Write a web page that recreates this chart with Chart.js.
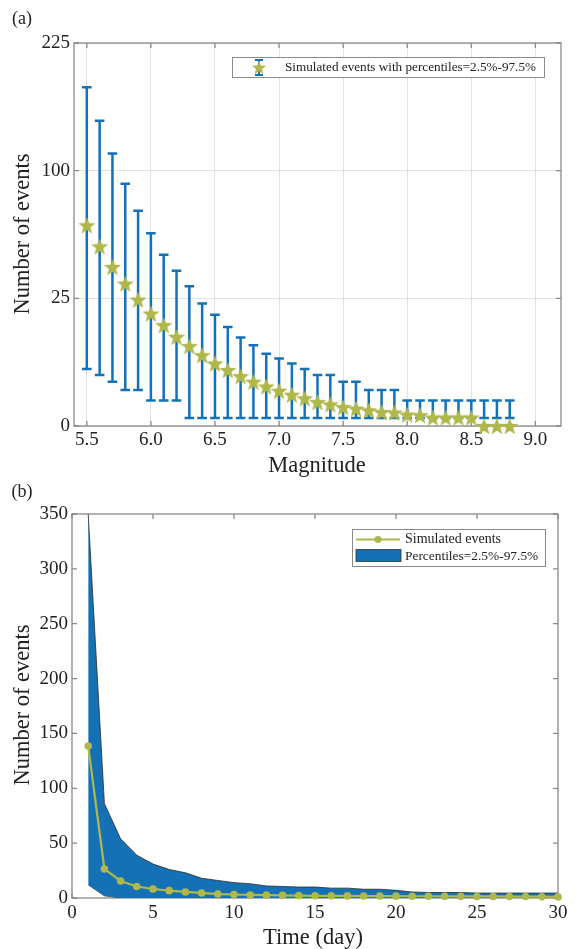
<!DOCTYPE html>
<html><head><meta charset="utf-8">
<script src="https://cdn.jsdelivr.net/npm/chart.js@4.4.1/dist/chart.umd.min.js"></script>
<style>
body{margin:0;background:#fff;width:580px;height:949px;position:relative;overflow:hidden;font-family:"Liberation Serif","Times New Roman",serif;color:#222;}
.lbl{position:absolute;white-space:nowrap;line-height:1;transform:translate(-50%,-50%);}
.rot{transform:translate(-50%,-50%) rotate(-90deg);}
#w1{position:absolute;left:0;top:0;width:580px;height:480px;}
#w2{position:absolute;left:0;top:480px;width:580px;height:469px;}
</style></head><body>
<div id="w1"><canvas id="c1" width="580" height="480"></canvas></div>
<div id="w2"><canvas id="c2" width="580" height="469"></canvas></div>
<div class="lbl" style="left:22px;top:18px;font-size:18px;">(a)</div>
<div class="lbl" style="left:317px;top:465px;font-size:22.5px;">Magnitude</div>
<div class="lbl rot" style="left:22px;top:234px;font-size:22.5px;">Number of events</div>
<div class="lbl" style="left:22px;top:491px;font-size:18px;">(b)</div>
<div class="lbl" style="left:313px;top:937px;font-size:22.5px;">Time (day)</div>
<div class="lbl rot" style="left:22px;top:705px;font-size:22.5px;">Number of events</div>
<script>
// ---------- data: panel (a) ----------
const magnitudes = [5.5,5.6,5.7,5.8,5.9,6.0,6.1,6.2,6.3,6.4,6.5,6.6,6.7,6.8,6.9,7.0,7.1,7.2,7.3,7.4,7.5,7.6,7.7,7.8,7.9,8.0,8.1,8.2,8.3,8.4,8.5,8.6,8.7,8.8];
const meanA  = [61.8,49.5,38.8,31.1,24.5,19.4,15.6,12.2,9.8,7.7,6.0,4.8,3.8,3.0,2.4,1.9,1.5,1.18,0.88,0.72,0.55,0.46,0.38,0.30,0.28,0.20,0.18,0.11,0.11,0.11,0.11,0,0,0];
const upperA = [176,143,114,90,71,57,45,37,30,23,19,15,12,10,8,7,6,5,4,4,3,3,2,2,2,1,1,1,1,1,1,1,1,1];
const lowerA = [5,4,3,2,2,1,1,1,0.1,0.1,0.1,0.1,0.1,0.1,0.1,0.1,0.1,0.1,0.1,0.1,0.1,0.1,0.1,0.1,0.1,0.1,0.1,0.1,0.1,0.1,0.1,0.1,0.1,0.1];
const xTicksA = [5.5,6.0,6.5,7.0,7.5,8.0,8.5,9.0];
const yTicksA = [0,25,100,225];
const legendA = "Simulated events with percentiles=2.5%-97.5%";
// ---------- data: panel (b) ----------
const days   = [1,2,3,4,5,6,7,8,9,10,11,12,13,14,15,16,17,18,19,20,21,22,23,24,25,26,27,28,29,30];
const meanB  = [138.5,26.5,15.5,10.5,8.2,6.7,5.5,4.6,3.6,3.2,2.8,2.6,2.4,2.2,2.0,2.0,1.9,1.8,1.8,1.7,1.6,1.6,1.5,1.5,1.4,1.4,1.3,1.3,1.2,1.0];
const upperB = [350,86,54,39,31,26,23,18,16,14,13,11,10.5,10,10,9,9,8,8,7,5.5,5,5,5,4.5,4.5,4.5,4.5,4.5,4.5];
const lowerB = [12,2,0,0,0,0,0,0,0,0,0,0,0,0,0,0,0,0,0,0,0,0,0,0,0,0,0,0,0,0];
const xTicksB = [0,5,10,15,20,25,30];
const yTicksB = [0,50,100,150,200,250,300,350];
const legendB = ["Simulated events","Percentiles=2.5%-97.5%"];

const FONT = '"Liberation Serif","Times New Roman",serif';
const BLUE = '#1571b5';
const OLIVE = '#b0b84c';
const AXIS = '#8a8a8a';
const TXT = '#222';

// square-root scale
class SqrtScale extends Chart.LinearScale {
  getPixelForValue(value){
    if (value === null || value === undefined) return NaN;
    const a = Math.sqrt(Math.max(0,this.min)), b = Math.sqrt(this.max);
    return this.getPixelForDecimal((Math.sqrt(Math.max(0,value)) - a)/(b - a));
  }
  getValueForPixel(pixel){
    const a = Math.sqrt(Math.max(0,this.min)), b = Math.sqrt(this.max);
    const s = a + this.getDecimalForPixel(pixel)*(b-a);
    return s*s;
  }
}
SqrtScale.id = 'sqrt';
SqrtScale.defaults = Chart.LinearScale.defaults;
Chart.register(SqrtScale);

function starPath(g,cx,cy,R){
  const r = R*0.42;
  g.beginPath();
  for(let i=0;i<10;i++){
    const ang = -Math.PI/2 + i*Math.PI/5, rad = (i%2)? r : R;
    g.lineTo(cx+rad*Math.cos(ang), cy+rad*Math.sin(ang));
  }
  g.closePath();
}
function starImage(size,color){
  const c = document.createElement('canvas'); c.width=c.height=size;
  const g = c.getContext('2d');
  starPath(g,size/2,size/2+0.9,size/2);
  g.fillStyle=color; g.fill();
  return c;
}
const starImg = starImage(18, OLIVE);

function boxPlugin(len){
  return {id:'box', beforeDatasetsDraw(chart){
    const {ctx, chartArea:a, scales:{x,y}} = chart;
    ctx.save();
    ctx.strokeStyle = AXIS; ctx.lineWidth = 1.3;
    ctx.strokeRect(a.left, a.top, a.right-a.left, a.bottom-a.top);
    ctx.beginPath();
    x.ticks.forEach(t=>{const p=x.getPixelForValue(t.value);
      ctx.moveTo(p,a.bottom); ctx.lineTo(p,a.bottom-len);
      ctx.moveTo(p,a.top); ctx.lineTo(p,a.top+len);});
    y.ticks.forEach(t=>{const p=y.getPixelForValue(t.value);
      ctx.moveTo(a.left,p); ctx.lineTo(a.left+len,p);
      ctx.moveTo(a.right,p); ctx.lineTo(a.right-len,p);});
    ctx.stroke();
    ctx.restore();
  }};
}

const errPlugin = {id:'err', beforeDatasetsDraw(chart){
  const {ctx, scales:{x,y}} = chart;
  ctx.save(); ctx.strokeStyle = BLUE; ctx.lineWidth = 2.5;
  magnitudes.forEach((m,i)=>{
    const px = x.getPixelForValue(m), pt = y.getPixelForValue(upperA[i]), pb = y.getPixelForValue(lowerA[i]);
    ctx.beginPath();
    ctx.moveTo(px,pt); ctx.lineTo(px,pb);
    ctx.moveTo(px-4.8,pt); ctx.lineTo(px+4.8,pt);
    ctx.moveTo(px-4.8,pb); ctx.lineTo(px+4.8,pb);
    ctx.stroke();
  });
  ctx.restore();
}};

const legendAPlugin = {id:'legA', afterDraw(chart){
  const ctx = chart.ctx;
  ctx.save();
  ctx.fillStyle='#fff'; ctx.fillRect(232,57,312,20);
  ctx.strokeStyle=AXIS; ctx.lineWidth=1; ctx.strokeRect(232.5,57.5,312,20);
  // icon: error bar + star
  ctx.strokeStyle=BLUE; ctx.lineWidth=2;
  ctx.beginPath(); ctx.moveTo(259,60); ctx.lineTo(259,75);
  ctx.moveTo(255,60); ctx.lineTo(263,60); ctx.moveTo(255,75); ctx.lineTo(263,75); ctx.stroke();
  starPath(ctx,259,68,7.5); ctx.fillStyle=OLIVE; ctx.fill();
  ctx.fillStyle=TXT; ctx.font='13.2px '+FONT; ctx.textBaseline='middle'; ctx.textAlign='left';
  ctx.fillText(legendA, 285, 67.5);
  ctx.restore();
}};

const legendBPlugin = {id:'legB', afterDraw(chart){
  const ctx = chart.ctx;
  ctx.save();
  ctx.fillStyle='#fff'; ctx.fillRect(352,49,193,37);
  ctx.strokeStyle=AXIS; ctx.lineWidth=1; ctx.strokeRect(352.5,49.5,193,37);
  ctx.strokeStyle=OLIVE; ctx.lineWidth=2.2;
  ctx.beginPath(); ctx.moveTo(356,59.5); ctx.lineTo(400,59.5); ctx.stroke();
  ctx.fillStyle=OLIVE; ctx.beginPath(); ctx.arc(378,59.5,3.6,0,Math.PI*2); ctx.fill();
  ctx.fillStyle=BLUE; ctx.fillRect(356,69.5,45,12);
  ctx.strokeStyle='#333'; ctx.lineWidth=0.8; ctx.strokeRect(356,69.5,45,12);
  ctx.fillStyle=TXT; ctx.font='14px '+FONT; ctx.textBaseline='middle'; ctx.textAlign='left';
  ctx.fillText(legendB[0], 405, 59.5);
  ctx.font='13.4px '+FONT;
  ctx.fillText(legendB[1], 405, 76);
  ctx.restore();
}};

const tickFont = {family:FONT, size:19};

new Chart(document.getElementById('c1'), {
  type:'scatter',
  data:{datasets:[{
    data: magnitudes.map((m,i)=>({x:m, y:meanA[i]})),
    pointStyle: starImg, pointRadius:9, showLine:false, clip:false,
    backgroundColor: OLIVE, borderColor: OLIVE
  }]},
  options:{
    animation:false, responsive:false, devicePixelRatio:1,
    layout:{padding:{top:43, right:19, left:0, bottom:0}},
    plugins:{legend:{display:false}, tooltip:{enabled:false}},
    scales:{
      x:{type:'linear', min:5.4, max:9.2,
        afterBuildTicks:s=>{s.ticks = xTicksA.map(v=>({value:v}));},
        afterFit:s=>{s.height=54;},
        grid:{color:'#e2e2e2', drawTicks:false}, border:{display:false},
        ticks:{font:tickFont, color:TXT, padding:3, maxRotation:0, callback:v=>Number(v).toFixed(1)}},
      y:{type:'sqrt', min:0, max:225,
        afterBuildTicks:s=>{s.ticks = yTicksA.map(v=>({value:v}));},
        afterFit:s=>{s.width=74;},
        grid:{color:'#e2e2e2', drawTicks:false}, border:{display:false},
        ticks:{font:tickFont, color:TXT, padding:4, callback:v=>String(v)}}
    }
  },
  plugins:[boxPlugin(5), errPlugin, legendAPlugin]
});

new Chart(document.getElementById('c2'), {
  type:'line',
  data:{datasets:[
    {label:legendB[0], data: days.map((d,i)=>({x:d, y:meanB[i]})), borderColor:OLIVE, backgroundColor:OLIVE,
      borderWidth:2.2, pointRadius:3.8, pointBorderWidth:0, tension:0, fill:false, clip:false},
    {label:'upper', data: days.map((d,i)=>({x:d, y:upperB[i]})), borderColor:'#2a2a2a', borderWidth:0.8,
      pointRadius:0, tension:0, fill:'+1', backgroundColor:BLUE},
    {label:'lower', data: days.map((d,i)=>({x:d, y:lowerB[i]})), borderColor:'#2a2a2a', borderWidth:0.8,
      pointRadius:0, tension:0, fill:false}
  ]},
  options:{
    animation:false, responsive:false, devicePixelRatio:1,
    layout:{padding:{top:34, right:22, left:0, bottom:0}},
    plugins:{legend:{display:false}, tooltip:{enabled:false}},
    scales:{
      x:{type:'linear', min:0, max:30,
        afterBuildTicks:s=>{s.ticks = xTicksB.map(v=>({value:v}));},
        afterFit:s=>{s.height=51;},
        grid:{display:false, drawTicks:false}, border:{display:false},
        ticks:{font:tickFont, color:TXT, padding:4, maxRotation:0, callback:v=>String(v)}},
      y:{type:'linear', min:0, max:350,
        afterBuildTicks:s=>{s.ticks = yTicksB.map(v=>({value:v}));},
        afterFit:s=>{s.width=72;},
        grid:{display:false, drawTicks:false}, border:{display:false},
        ticks:{font:tickFont, color:TXT, padding:4, callback:v=>String(v)}}
    }
  },
  plugins:[boxPlugin(5), legendBPlugin]
});
</script>
</body></html>
